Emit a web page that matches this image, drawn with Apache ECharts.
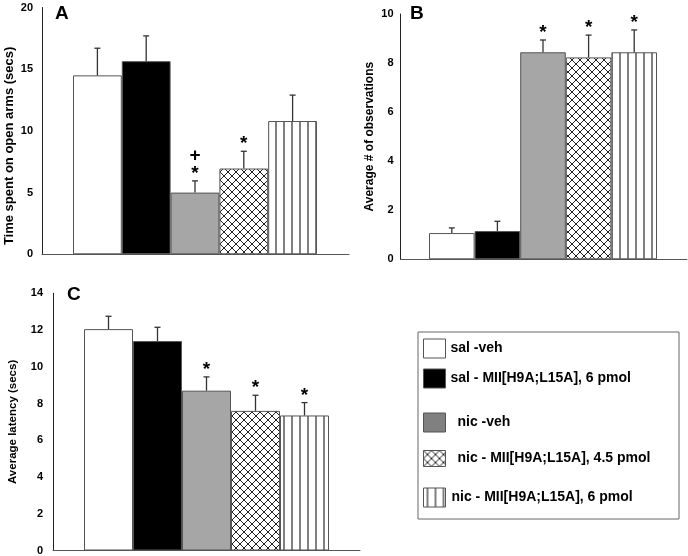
<!DOCTYPE html>
<html>
<head>
<meta charset="utf-8">
<script src="https://cdn.jsdelivr.net/npm/echarts@6/dist/echarts.min.js"></script>
<style>
  html, body { margin: 0; padding: 0; background: #fff; }
  #chart { width: 688px; height: 556px; }
</style>
</head>
<body>
<div id="chart"></div>
<script>
// groups, same order in every panel
const groups = ['sal -veh', 'sal - MII[H9A;L15A], 6 pmol', 'nic -veh',
  'nic - MII[H9A;L15A], 4.5 pmol', 'nic - MII[H9A;L15A], 6 pmol'];

// A: time spent on open arms (secs)
const openArmsMean = [14.5, 15.65, 5.0, 6.95, 10.8];
const openArmsSem = [2.2, 2.05, 0.95, 1.4, 2.1];
const openArmsMarks = ['', '', '+\n*', '*', ''];

// B: average # of observations
const obsMean = [1.07, 1.15, 8.44, 8.23, 8.44];
const obsSem = [0.21, 0.4, 0.5, 0.91, 0.91];
const obsMarks = ['', '', '*', '*', '*'];

// C: average latency (secs)
const latencyMean = [12.05, 11.4, 8.7, 7.6, 7.35];
const latencySem = [0.7, 0.75, 0.75, 0.85, 0.7];
const latencyMarks = ['', '', '*', '*', '*'];

const FONT = '"Liberation Sans", Arial, sans-serif';

function hatch() {
  const c = document.createElement('canvas');
  c.width = 8; c.height = 8;
  const g = c.getContext('2d');
  g.fillStyle = '#fff'; g.fillRect(0, 0, 8, 8);
  g.strokeStyle = '#222'; g.lineWidth = 1;
  g.beginPath();
  g.moveTo(0, 0); g.lineTo(8, 8);
  g.moveTo(8, 0); g.lineTo(0, 8);
  g.stroke();
  return c;
}
function stripes() {
  const c = document.createElement('canvas');
  c.width = 8; c.height = 8;
  const g = c.getContext('2d');
  g.fillStyle = '#fff'; g.fillRect(0, 0, 8, 8);
  g.fillStyle = '#808080'; g.fillRect(3, 0, 2, 8);
  return c;
}

const fills = [
  '#ffffff',
  '#000000',
  '#a6a6a6',
  { image: hatch(), repeat: 'repeat' },
  { image: stripes(), repeat: 'repeat' }
];
const legendFills = fills.slice();
legendFills[2] = '#808080';

const panels = [
  { letter: 'A', mean: openArmsMean, sem: openArmsSem, marks: openArmsMarks,
    name: 'Time spent on open arms (secs)', max: 20, step: 5,
    grid: { left: 42, top: 7.5, width: 307, height: 246.8 },
    barW: 48.8, padL: 31, padR: 32, nameGap: 26, nameSize: 13, labelMargin: 9,
    namePad: [0, 30, 0, 0], title: { left: 55, top: 4 } },
  { letter: 'B', mean: obsMean, sem: obsSem, marks: obsMarks,
    name: 'Average # of observations', max: 10, step: 2,
    grid: { left: 400.5, top: 14, width: 286.5, height: 245.3 },
    barW: 45.6, padL: 28.5, padR: 30, nameGap: 25, nameSize: 12, labelMargin: 7,
    namePad: 0, title: { left: 410, top: 4 } },
  { letter: 'C', mean: latencyMean, sem: latencySem, marks: latencyMarks,
    name: 'Average latency (secs)', max: 14, step: 2,
    grid: { left: 53, top: 293.3, width: 307, height: 257.4 },
    barW: 49, padL: 31, padR: 31, nameGap: 34, nameSize: 11.5, labelMargin: 10,
    namePad: 0, title: { left: 67, top: 285 } }
];

const grids = [], xAxes = [], yAxes = [], series = [], titles = [];

panels.forEach((p, k) => {
  grids.push(p.grid);
  titles.push({
    text: p.letter, left: p.title.left, top: p.title.top, padding: 0,
    textStyle: { fontFamily: FONT, fontSize: 19, fontWeight: 'bold', color: '#000' }
  });
  xAxes.push({
    gridIndex: k, type: 'value',
    min: -0.5 - p.padL / p.barW, max: 4.5 + p.padR / p.barW,
    axisLine: { show: true, onZero: false, lineStyle: { color: '#555', width: 1 } },
    axisTick: { show: false }, axisLabel: { show: false }, splitLine: { show: false }
  });
  yAxes.push({
    gridIndex: k, type: 'value', min: 0, max: p.max, interval: p.step,
    axisLine: { show: true, onZero: false, lineStyle: { color: '#222', width: 1 } },
    axisTick: { show: false }, splitLine: { show: false },
    axisLabel: { fontFamily: FONT, fontSize: 11, fontWeight: 'bold', color: '#000', margin: p.labelMargin },
    name: p.name, nameLocation: 'middle', nameGap: p.nameGap,
    nameTextStyle: { fontFamily: FONT, fontSize: p.nameSize, fontWeight: 'bold', color: '#000',
      padding: p.namePad }
  });
  groups.forEach((g, i) => {
    series.push({
      type: 'bar', name: g, xAxisIndex: k, yAxisIndex: k,
      barWidth: p.barW, barGap: '-100%',
      data: [[i, p.mean[i]]],
      itemStyle: { color: fills[i], borderColor: '#555', borderWidth: 1 },
      emphasis: { disabled: true }, silent: true
    });
  });
  series.push({
    type: 'custom', name: 'err' + p.letter, xAxisIndex: k, yAxisIndex: k,
    clip: false, z: 5, silent: true,
    data: p.mean.map((m, i) => [i, m, p.sem[i]]),
    renderItem: (params, api) => {
      const x = api.value(0), m = api.value(1), s = api.value(2);
      const base = api.coord([x, m]);
      const top = api.coord([x, m + s]);
      const mark = p.marks[params.dataIndex];
      const kids = [
        { type: 'line', shape: { x1: top[0], y1: base[1], x2: top[0], y2: top[1] },
          style: { stroke: '#333', lineWidth: 1.3 } },
        { type: 'line', shape: { x1: top[0] - 3, y1: top[1], x2: top[0] + 3, y2: top[1] },
          style: { stroke: '#333', lineWidth: 1.3 } }
      ];
      if (mark) {
        kids.push({ type: 'text', style: {
          text: mark, x: top[0], y: top[1] + 2, align: 'center', verticalAlign: 'bottom',
          fontFamily: FONT, fontSize: 19, fontWeight: 'bold', lineHeight: 18, fill: '#000'
        } });
      }
      return { type: 'group', children: kids };
    }
  });
});

const legendRows = [348, 378, 422, 458, 497];
const legendPad = [0, 0, 7, 7, 1];
const legendH = [19, 19, 19, 16, 19];
const legends = groups.map((g, i) => ({
  data: [g], orient: 'vertical', left: 423, top: legendRows[i] - legendH[i] / 2,
  padding: 0, itemWidth: 22, itemHeight: legendH[i], selectedMode: false,
  icon: 'rect',
  itemStyle: { color: legendFills[i], borderColor: '#555', borderWidth: 1 },
  textStyle: { fontFamily: FONT, fontSize: 14, fontWeight: 'bold', color: '#000',
    padding: [0, 0, 0, legendPad[i]] }
}));

const chart = echarts.init(document.getElementById('chart'), null, { renderer: 'canvas' });
chart.setOption({
  animation: false,
  backgroundColor: '#fff',
  title: titles,
  grid: grids,
  xAxis: xAxes,
  yAxis: yAxes,
  legend: legends,
  graphic: [{
    type: 'rect', shape: { x: 418, y: 332, width: 261, height: 187 },
    style: { fill: 'none', stroke: '#666', lineWidth: 1 }
  }],
  series: series
});
</script>
</body>
</html>
